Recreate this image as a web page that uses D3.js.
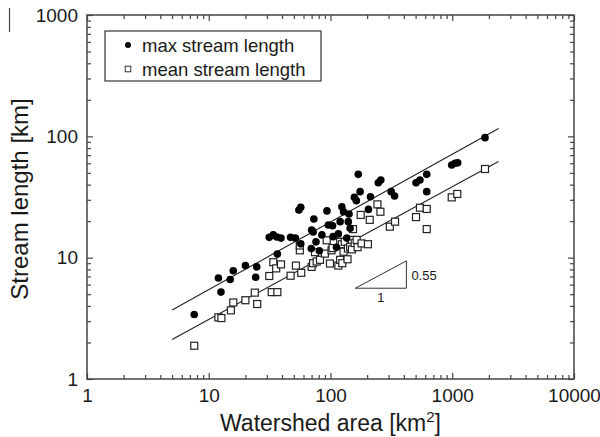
<!DOCTYPE html>
<html>
<head>
<meta charset="utf-8">
<script src="https://cdn.jsdelivr.net/npm/d3@7"></script>
<style>
body { margin: 0; background: #fff; }
text { font-family: "Liberation Sans", Arial, sans-serif; fill: #1a1a1a; }
</style>
</head>
<body>
<svg id="chart" width="600" height="437"></svg>
<script>
// [watershed area km2, stream length km]
var maxStream = [
  [7.6,3.4],[12,6.8],[12.6,5.2],[15,6.6],[15.9,7.8],[20,8.6],[24.8,8.4],[24.3,6.9],
  [36.6,10.7],[31.4,14.7],[33.9,15.4],[36.2,14.8],[39.2,14.5],[47,14.7],[51.5,14.5],
  [55,24.7],[57,26],[73,20.8],[169,48.6],[247,41.5],[259,43.7],[175,35],[157,31.5],
  [163,29.5],[213,31.8],[315,35],[336,32.2],[93.5,24.3],[124,26.3],[128,23.9],
  [142,22.9],[205,25],[96,18.6],[104,18.3],[120,19.8],[140,19.8],[145,17.5],[70,16.9],
  [72,16.3],[85,15.4],[116,15.7],[105,14.9],[136,14.5],[69.5,11.9],[81,11.4],[112,12.2],
  [76,13.5],[57,13],[1858,97.5],[990,58],[1054,60],[1109,60.6],[617,48.6],[504,41.5],
  [543,43.7],[617,35]
];
var meanStream = [
  [7.6,1.88],[12,3.22],[12.7,3.18],[15.2,3.68],[15.9,4.27],[20,4.46],[23.9,5.15],[25,4.15],
  [31.4,7.06],[33.9,9.18],[35.8,8.16],[39.2,8.8],[32.9,5.2],[36.6,5.2],[47,7.1],[52,8.6],
  [56,11.5],[56,12.6],[57.5,7.5],[70,8.4],[72,9.0],[77,9.3],[74.6,11.1],[82,9.6],[90,10.8],
  [93,13.9],[99,8.95],[102,11.5],[104,12.0],[116,8.6],[120,9.6],[120,13.5],[124,12.9],
  [125,9.0],[128,11.2],[131,13.5],[138,9.7],[139,11.9],[145,12.3],[150,11.7],[150,14],
  [153,17.2],[158,13.2],[164,14],[167,12.2],[177,22.5],[180,13.1],[203,12.9],[210,20.5],
  [243,27.5],[257,23.9],[307,18],[339,19.8],[504,21.6],[543,25.8],[617,25.2],[617,17.2],
  [990,31.4],[1100,33.5],[1858,53.8]
];
var maxFit = [[5, 3.7], [2400, 116]];
var meanFit = [[5, 2.12], [2400, 62]];
var slopeTriangle = [[160, 5.6], [420, 5.6], [420, 9.4]];
var xTicks = [1, 10, 100, 1000, 10000];
var yTicks = [1, 10, 100, 1000];
var seriesNames = ["max stream length", "mean stream length"];

var svg = d3.select("#chart"),
    margin = {top: 15, right: 26, bottom: 58, left: 87},
    width = +svg.attr("width") - margin.left - margin.right,
    height = +svg.attr("height") - margin.top - margin.bottom,
    g = svg.append("g").attr("transform", "translate(" + margin.left + "," + margin.top + ")");

var x = d3.scaleLog().domain([1, 10000]).range([0, width]);
var y = d3.scaleLog().domain([1, 1000]).range([height, 0]);

function minors(dom) {
  var out = [];
  for (var d = dom[0]; d < dom[1]; d *= 10)
    for (var k = 2; k <= 9; k++) out.push(d * k);
  return out;
}
var xMinor = minors(x.domain()), yMinor = minors(y.domain());

var axisColor = "#444";

function addAxis(axis, tr) {
  var a = g.append("g").attr("transform", tr).call(axis);
  a.select(".domain").remove();
  a.selectAll("line").attr("stroke", axisColor).attr("stroke-width", 1.2);
  return a;
}

// minor ticks
addAxis(d3.axisBottom(x).tickValues(xMinor).tickSize(-4).tickFormat(""), "translate(0," + height + ")");
addAxis(d3.axisTop(x).tickValues(xMinor).tickSize(-4).tickFormat(""), "translate(0,0)");
addAxis(d3.axisLeft(y).tickValues(yMinor).tickSize(-4).tickFormat(""), "translate(0,0)");
addAxis(d3.axisRight(y).tickValues(yMinor).tickSize(-4).tickFormat(""), "translate(" + width + ",0)");

// major ticks
var xa = addAxis(d3.axisBottom(x).tickValues(xTicks).tickSize(-6).tickPadding(10).tickFormat(d3.format("d")), "translate(0," + height + ")");
addAxis(d3.axisTop(x).tickValues(xTicks).tickSize(-6).tickFormat(""), "translate(0,0)");
var ya = addAxis(d3.axisLeft(y).tickValues(yTicks).tickSize(-6).tickPadding(9).tickFormat(d3.format("d")), "translate(0,0)");
addAxis(d3.axisRight(y).tickValues(yTicks).tickSize(-6).tickFormat(""), "translate(" + width + ",0)");

svg.selectAll(".tick text")
  .attr("font-family", "Liberation Sans, Arial, sans-serif")
  .attr("font-size", 19)
  .attr("fill", "#1a1a1a");

// frame
g.append("rect")
  .attr("width", width)
  .attr("height", height)
  .attr("fill", "none")
  .attr("stroke", axisColor)
  .attr("stroke-width", 1.5);

// fit lines
var line = d3.line()
  .x(function(d) { return x(d[0]); })
  .y(function(d) { return y(d[1]); });

[maxFit, meanFit].forEach(function(f) {
  g.append("path")
    .attr("d", line(f))
    .attr("fill", "none")
    .attr("stroke", "#222")
    .attr("stroke-width", 1.1);
});

// slope triangle
g.append("path")
  .attr("d", line(slopeTriangle) + "Z")
  .attr("fill", "none")
  .attr("stroke", "#333")
  .attr("stroke-width", 1);

g.append("text")
  .attr("x", x(slopeTriangle[1][0]) + 5)
  .attr("y", y(Math.sqrt(slopeTriangle[1][1] * slopeTriangle[2][1])) + 5)
  .attr("font-size", 13)
  .text("0.55");

g.append("text")
  .attr("x", x(Math.sqrt(slopeTriangle[0][0] * slopeTriangle[1][0])))
  .attr("y", y(slopeTriangle[0][1]) + 14)
  .attr("text-anchor", "middle")
  .attr("font-size", 13)
  .text("1");

// mean (open squares)
var s = 7;
g.append("g").selectAll("rect")
  .data(meanStream)
  .enter().append("rect")
    .attr("x", function(d) { return x(d[0]) - s / 2; })
    .attr("y", function(d) { return y(d[1]) - s / 2; })
    .attr("width", s)
    .attr("height", s)
    .attr("fill", "#fff")
    .attr("stroke", "#222")
    .attr("stroke-width", 1.2);

// max (filled circles)
g.append("g").selectAll("circle")
  .data(maxStream)
  .enter().append("circle")
    .attr("cx", function(d) { return x(d[0]); })
    .attr("cy", function(d) { return y(d[1]); })
    .attr("r", 3.8)
    .attr("fill", "#000");

// legend
var legend = svg.append("g").attr("transform", "translate(105,31)");
legend.append("rect")
  .attr("width", 216)
  .attr("height", 50)
  .attr("fill", "#fff")
  .attr("stroke", "#333")
  .attr("stroke-width", 1.2);

var items = legend.selectAll(".item")
  .data(seriesNames)
  .enter().append("g")
    .attr("class", "item")
    .attr("transform", function(d, i) { return "translate(0," + (14 + i * 24) + ")"; });

items.filter(function(d, i) { return i === 0; })
  .append("circle")
    .attr("cx", 23)
    .attr("r", 3)
    .attr("fill", "#000");

items.filter(function(d, i) { return i === 1; })
  .append("rect")
    .attr("x", 20.2)
    .attr("y", -2.8)
    .attr("width", 5.6)
    .attr("height", 5.6)
    .attr("fill", "#fff")
    .attr("stroke", "#333")
    .attr("stroke-width", 1);

items.append("text")
  .attr("x", 37)
  .attr("y", 7)
  .attr("font-size", 18.5)
  .text(function(d) { return d; });

// axis titles
var xt = svg.append("text")
  .attr("x", margin.left + width / 2)
  .attr("y", 431)
  .attr("text-anchor", "middle")
  .attr("font-size", 23)
  .text("Watershed area [km");
xt.append("tspan")
  .attr("font-size", 15)
  .attr("dy", -9)
  .text("2");
xt.append("tspan")
  .attr("dy", 9)
  .text("]");

svg.append("text")
  .attr("transform", "translate(28," + (margin.top + height / 2 + 2) + ") rotate(-90)")
  .attr("text-anchor", "middle")
  .attr("font-size", 24)
  .text("Stream length [km]");

// stray edge mark in the top-left corner of the figure
svg.append("line")
  .attr("x1", 9.5).attr("x2", 9.5)
  .attr("y1", 8).attr("y2", 32)
  .attr("stroke", "#444")
  .attr("stroke-width", 1.2);
</script>
</body>
</html>
